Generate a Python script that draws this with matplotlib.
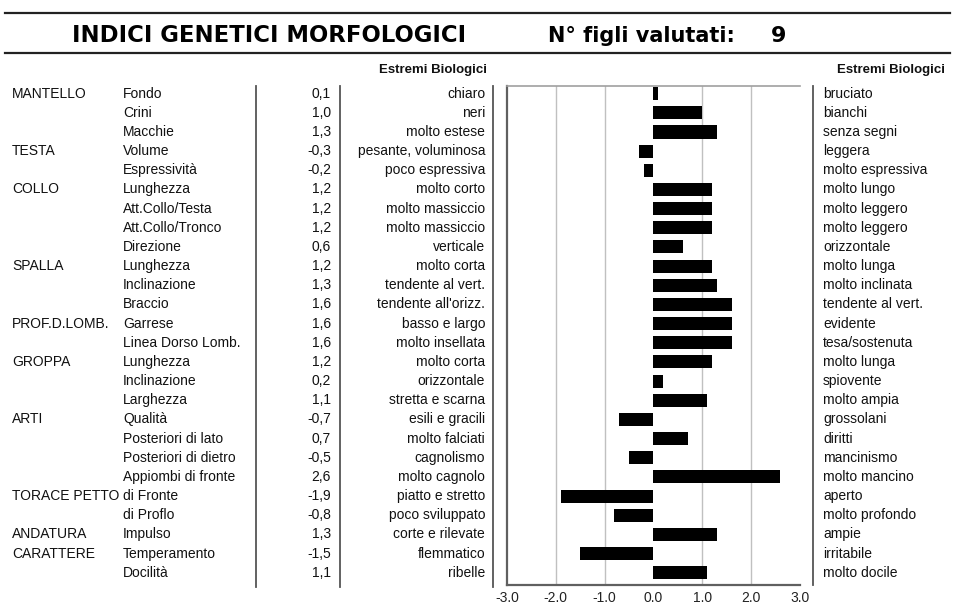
import matplotlib
matplotlib.use("Agg")
import matplotlib.pyplot as plt
from matplotlib.transforms import blended_transform_factory
from matplotlib.lines import Line2D

groups = ["MANTELLO", "", "", "TESTA", "", "COLLO", "", "", "", "SPALLA", "", "",
          "PROF.D.LOMB.", "", "GROPPA", "", "", "ARTI", "", "", "", "TORACE PETTO", "",
          "ANDATURA", "CARATTERE", ""]
traits = ["Fondo", "Crini", "Macchie", "Volume", "Espressività", "Lunghezza",
          "Att.Collo/Testa", "Att.Collo/Tronco", "Direzione", "Lunghezza", "Inclinazione",
          "Braccio", "Garrese", "Linea Dorso Lomb.", "Lunghezza", "Inclinazione",
          "Larghezza", "Qualità", "Posteriori di lato", "Posteriori di dietro",
          "Appiombi di fronte", "di Fronte", "di Proflo", "Impulso", "Temperamento",
          "Docilità"]
values = [0.1, 1.0, 1.3, -0.3, -0.2, 1.2, 1.2, 1.2, 0.6, 1.2, 1.3, 1.6, 1.6, 1.6, 1.2,
          0.2, 1.1, -0.7, 0.7, -0.5, 2.6, -1.9, -0.8, 1.3, -1.5, 1.1]
left_extremes = ["chiaro", "neri", "molto estese", "pesante, voluminosa", "poco espressiva",
                 "molto corto", "molto massiccio", "molto massiccio", "verticale",
                 "molto corta", "tendente al vert.", "tendente all'orizz.", "basso e largo",
                 "molto insellata", "molto corta", "orizzontale", "stretta e scarna",
                 "esili e gracili", "molto falciati", "cagnolismo", "molto cagnolo",
                 "piatto e stretto", "poco sviluppato", "corte e rilevate", "flemmatico",
                 "ribelle"]
right_extremes = ["bruciato", "bianchi", "senza segni", "leggera", "molto espressiva",
                  "molto lungo", "molto leggero", "molto leggero", "orizzontale",
                  "molto lunga", "molto inclinata", "tendente al vert.", "evidente",
                  "tesa/sostenuta", "molto lunga", "spiovente", "molto ampia", "grossolani",
                  "diritti", "mancinismo", "molto mancino", "aperto", "molto profondo",
                  "ampie", "irritabile", "molto docile"]
x_ticks = [-3.0, -2.0, -1.0, 0.0, 1.0, 2.0, 3.0]
n_figli = 9

W, H = 960, 604
fig = plt.figure(figsize=(W / 100, H / 100), dpi=100)
fig.patch.set_facecolor("white")

def fx(px):
    return px / W

def fy(py):
    return 1 - py / H

ax_left, ax_right, ax_top, ax_bot = 507, 800, 86, 585
ax = fig.add_axes([fx(ax_left), fy(ax_bot), fx(ax_right - ax_left), (ax_bot - ax_top) / H])

rows = list(range(len(values)))
ax.barh(rows, values, height=0.68, color="black", zorder=3)
ax.set_xlim(-3, 3)
n = len(values)
ax.set_ylim(n - 1 + 0.64, -0.4)
ax.set_yticks([])
ax.set_xticks(x_ticks)
ax.set_xticklabels([f"{t:.1f}" for t in x_ticks], fontsize=10, color="#222",
                   family="Liberation Sans")
ax.tick_params(axis="x", length=0, pad=4)
for g in [-2, -1, 1, 2]:
    ax.axvline(g, color="#c0c0c0", lw=1.0, zorder=1)
ax.spines["right"].set_visible(False)
ax.spines["top"].set_color("#a0a0a0")
ax.spines["top"].set_linewidth(1.2)
ax.spines["left"].set_color("#606060")
ax.spines["left"].set_linewidth(1.6)
ax.spines["bottom"].set_color("#606060")
ax.spines["bottom"].set_linewidth(1.6)

tr = blended_transform_factory(fig.transFigure, ax.transData)
txt = dict(fontsize=10, color="#111", family="Liberation Sans", va="center", transform=tr)
for i in rows:
    if groups[i]:
        fig.text(fx(12), i, groups[i], ha="left", **txt)
    fig.text(fx(123), i, traits[i], ha="left", **txt)
    fig.text(fx(331), i, f"{values[i]:.1f}".replace(".", ","), ha="right", **txt)
    fig.text(fx(485), i, left_extremes[i], ha="right", **txt)
    fig.text(fx(823), i, right_extremes[i], ha="left", **txt)

# headers
fig.text(fx(487), fy(70), "Estremi Biologici", ha="right", va="center", fontsize=9.5,
         fontweight="bold", family="Liberation Sans", color="#111")
fig.text(fx(945), fy(70), "Estremi Biologici", ha="right", va="center", fontsize=9.5,
         fontweight="bold", family="Liberation Sans", color="#111")

# title
fig.text(fx(72), fy(36), "INDICI GENETICI MORFOLOGICI", ha="left", va="center",
         fontsize=16.4, fontweight="bold", family="DejaVu Sans", color="black")
fig.text(fx(548), fy(36), "N° figli valutati:", ha="left", va="center",
         fontsize=15, fontweight="bold", family="DejaVu Sans", color="black")
fig.text(fx(771), fy(36), str(n_figli), ha="left", va="center",
         fontsize=16, fontweight="bold", family="DejaVu Sans", color="black")

# horizontal rules
for yy in [13, 53]:
    fig.add_artist(Line2D([fx(5), fx(950)], [fy(yy), fy(yy)], color="#222", lw=1.6))

# vertical dividers
for xx, y0, y1 in [(256, 86, 587), (340, 86, 587), (493, 86, 587), (813, 86, 585)]:
    fig.add_artist(Line2D([fx(xx), fx(xx)], [fy(y0), fy(y1)], color="#555", lw=1.3))

fig.savefig("out.png", dpi=100, facecolor="white")
